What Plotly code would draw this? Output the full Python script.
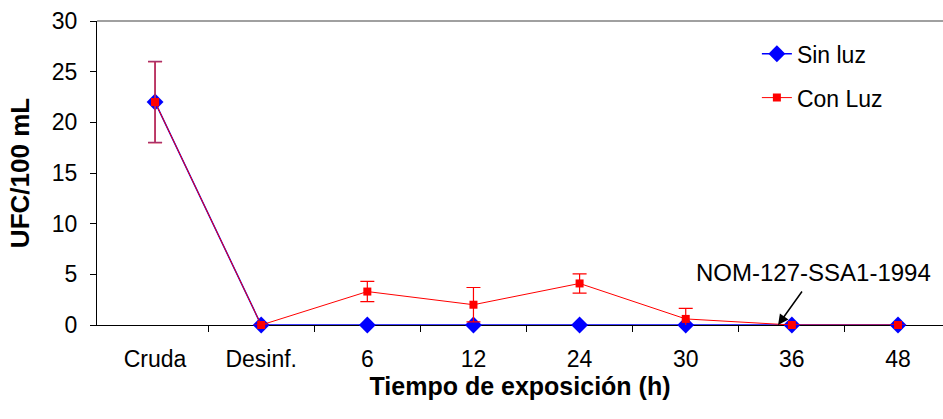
import plotly.graph_objects as go

categorias = ["Cruda", "Desinf.", "6", "12", "24", "30", "36", "48"]
sin_luz = [22, 0, 0, 0, 0, 0, 0, 0]
con_luz = [22, 0, 3.3, 2.0, 4.1, 0.6, 0, 0]
con_luz_err = [4, 0, 1.0, 1.7, 0.95, 1.05, 0, 0]
y_ticks = [0, 5, 10, 15, 20, 25, 30]

FONT = "Arial, Liberation Sans, sans-serif"
x = list(range(len(categorias)))

fig = go.Figure()

fig.add_trace(go.Scatter(
    x=x, y=sin_luz, name="Sin luz", mode="lines+markers",
    line=dict(color="#0000FF", width=1.5),
    marker=dict(symbol="diamond", size=13, color="#0000FF"),
    legendgroup="a", cliponaxis=False,
))

fig.add_trace(go.Scatter(
    x=x, y=con_luz, name="Con Luz", mode="lines+markers",
    line=dict(color="#FF0000", width=1),
    marker=dict(symbol="square", size=8, color="#FF0000"),
    error_y=dict(type="data", array=con_luz_err, visible=True,
                 color="#FF0000", thickness=1.2, width=7),
    legendgroup="b", cliponaxis=False,
))

# overlapped error bar at the first point (red over blue)
fig.add_trace(go.Scatter(
    x=x[:1], y=con_luz[:1], mode="markers", showlegend=False,
    marker=dict(symbol="square", size=8, color="#FF0000"),
    error_y=dict(type="data", array=con_luz_err[:1], visible=True,
                 color="#A8306A", thickness=1.5, width=7),
    cliponaxis=False, hoverinfo="skip",
))

fig.add_annotation(
    x=5.87, y=0, ax=25, ay=-35, text="", showarrow=True,
    arrowhead=2, arrowsize=1.4, arrowwidth=1.5, arrowcolor="black",
)
fig.add_annotation(
    x=6.2, y=5.2, text="NOM-127-SSA1-1994", showarrow=False,
    font=dict(family=FONT, size=24, color="black"),
)

fig.add_shape(type="line", xref="paper", yref="paper", x0=0, x1=1, y0=1, y1=1,
              line=dict(color="#808080", width=1.5))

fig.update_layout(
    width=943, height=419,
    margin=dict(l=97, r=0, t=21, b=94),
    paper_bgcolor="white", plot_bgcolor="white",
    font=dict(family=FONT, size=23, color="black"),
    showlegend=True,
    legend=dict(x=0.78, y=0.963, xanchor="left", yanchor="top",
                font=dict(size=23), traceorder="grouped", tracegroupgap=11,
                bgcolor="rgba(0,0,0,0)"),
)

fig.update_xaxes(
    range=[-0.547, 7.424], tickmode="array", tickvals=x, ticktext=categorias,
    showgrid=False, showline=True, linecolor="black", linewidth=1,
    ticks="", layer="below traces", zeroline=False,
    minor=dict(tickmode="array", tickvals=[i + 0.5 for i in x[:-1]],
               ticks="outside", ticklen=6, tickcolor="black"),
    ticklabelstandoff=13, automargin=True,
    title=dict(text="<b>Tiempo de exposición (h)</b>", font=dict(size=25), standoff=0),
)

fig.update_yaxes(
    range=[0, 30], tickmode="array", tickvals=y_ticks,
    showgrid=False, showline=True, linecolor="black", linewidth=1,
    ticks="outside", ticklen=6, tickcolor="black", zeroline=False,
    layer="below traces", ticklabelstandoff=8, automargin=False,
    title=dict(text="<b>UFC/100 mL</b>", font=dict(size=26), standoff=14),
)

fig.write_html("out.html", config={"displayModeBar": False},
               post_script="document.body.style.margin='0';")
